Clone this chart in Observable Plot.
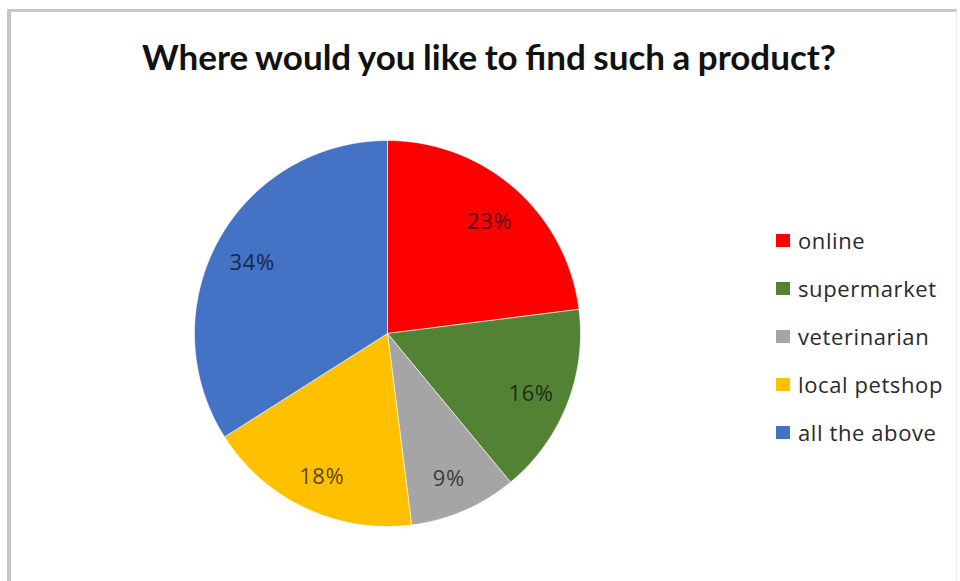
<!DOCTYPE html>
<html>
<head>
<meta charset="utf-8">
<script src="https://cdn.jsdelivr.net/npm/d3@7"></script>
<script src="https://cdn.jsdelivr.net/npm/@observablehq/plot@0.6"></script>
<style>
  html, body { margin: 0; padding: 0; background: #fff; }
  #chart { position: relative; width: 960px; height: 581px; overflow: hidden; background: #fff; }
  #frame { position: absolute; left: 7px; top: 9px; width: 950px; height: 600px;
           border-top: 3px solid #c8c8c8; border-left: 4px solid #c8c8c8; border-right: 1px solid #ececec; box-sizing: border-box; }
  #title { position: absolute; left: 18px; top: 0; width: 942px; height: 100px; text-align: center;
           font-family: Lato, "Open Sans", sans-serif; font-weight: 700; font-size: 35px; line-height: 1;
           color: #111; padding-top: 39px; box-sizing: border-box; word-spacing: -1px; }
  #plot { position: absolute; left: 0; top: 100px; }
  #legend { position: absolute; left: 776px; top: 216px; font-family: "Open Sans", sans-serif; font-size: 22px;
            letter-spacing: 0.6px; color: #2a2a2a; }
  .item { display: flex; align-items: center; height: 48px; }
  .sw { width: 14px; height: 13px; margin-right: 8px; flex: none; }
</style>
</head>
<body>
<div id="chart">
  <div id="frame"></div>
  <div id="title"></div>
  <div id="plot"></div>
  <div id="legend"></div>
</div>
<script>
const titleText = "Where would you like to find such a product?";
const categories = ["online", "supermarket", "veterinarian", "local petshop", "all the above"];
const shares = [23, 16, 9, 18, 34];
const pctLabels = ["23%", "16%", "9%", "18%", "34%"];
const colors = ["#FF0000", "#548235", "#A5A5A5", "#FFC000", "#4472C4"];

// layout constants (pixels)
const W = 960, H = 481, CX = 387, CY = 233, R = 193;

const total = d3.sum(shares);
const slices = [];
const labelRows = [];
let cum = 0;
categories.forEach((cat, i) => {
  const a0 = cum / total * 2 * Math.PI;
  cum += shares[i];
  const a1 = cum / total * 2 * Math.PI;
  slices.push({category: cat, x: 0, y: 0});
  const n = Math.max(2, Math.ceil((a1 - a0) / (Math.PI / 180)));
  for (let k = 0; k <= n; k++) {
    const a = a0 + (a1 - a0) * k / n;
    slices.push({category: cat, x: Math.sin(a), y: Math.cos(a)});
  }
  slices.push({category: cat, x: 0, y: 0});
  const am = (a0 + a1) / 2;
  labelRows.push({category: cat, label: pctLabels[i], x: 0.8 * Math.sin(am), y: 0.8 * Math.cos(am)});
});

document.getElementById("title").textContent = titleText;

const plot = Plot.plot({
  width: W,
  height: H,
  margin: 0,
  x: {domain: [-CX / R, (W - CX) / R], axis: null},
  y: {domain: [-(H - CY) / R, CY / R], axis: null},
  color: {domain: categories, range: colors},
  marks: [
    Plot.line(slices, {x: "x", y: "y", z: "category", fill: "category", stroke: "white", strokeWidth: 1, strokeOpacity: 0.6}),
    Plot.text(labelRows, {x: "x", y: "y", text: "label", fill: "black", fillOpacity: 0.68, dy: 4,
      fontSize: 22, fontFamily: "Open Sans, sans-serif"})
  ],
  style: {background: "transparent"}
});
plot.querySelectorAll("text").forEach(t => t.setAttribute("letter-spacing", "0.6"));
document.getElementById("plot").appendChild(plot);

const legend = d3.select("#legend");
categories.forEach((cat, i) => {
  const row = legend.append("div").attr("class", "item");
  row.append("div").attr("class", "sw").style("background", colors[i]);
  row.append("span").text(cat);
});
</script>
</body>
</html>
